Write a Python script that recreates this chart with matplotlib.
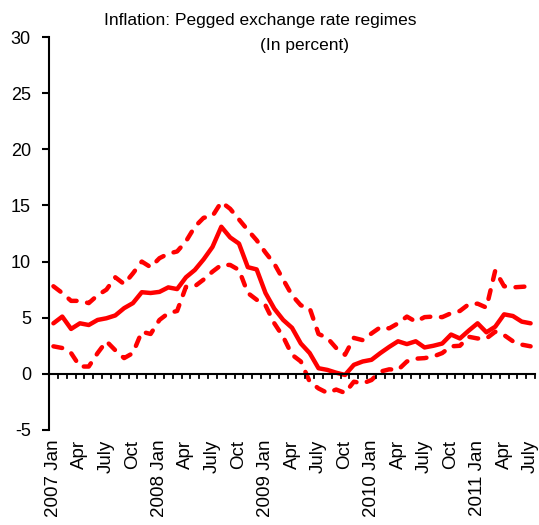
import numpy as np
import matplotlib.pyplot as plt
from matplotlib import transforms

# monthly inflation, Jan 2007 - July 2011
median = [4.5, 5.1, 4.0, 4.5, 4.35, 4.8, 4.95, 5.2, 5.85, 6.3,
          7.27, 7.2, 7.3, 7.7, 7.55, 8.6, 9.25, 10.2, 11.3, 13.1,
          12.15, 11.6, 9.5, 9.3, 7.2, 5.8, 4.8, 4.1, 2.7, 1.85,
          0.5, 0.35, 0.1, -0.1, 0.8, 1.1, 1.25, 1.85, 2.4, 2.9,
          2.65, 2.9, 2.35, 2.5, 2.7, 3.5, 3.15, 3.85, 4.5, 3.7,
          4.2, 5.3, 5.15, 4.65, 4.5]
upper = [7.8, 7.2, 6.5, 6.5, 6.3, 7.0, 7.5, 8.6, 8.0, 8.95,
         10.0, 9.5, 10.3, 10.7, 10.9, 11.8, 13.1, 13.9, 14.05, 15.3,
         14.7, 13.75, 12.8, 11.9, 10.8, 9.8, 8.4, 7.0, 6.1, 5.85,
         3.55, 3.2, 2.3, 1.7, 3.2, 3.0, 3.6, 4.15, 4.05, 4.5,
         5.1, 4.65, 5.05, 5.1, 5.05, 5.4, 5.6, 6.2, 6.25, 5.9,
         9.2, 7.8, 7.7, 7.75, 7.8]
lower = [2.45, 2.3, 1.85, 0.65, 0.65, 1.85, 2.9, 2.1, 1.4, 1.85,
         3.75, 3.55, 4.8, 5.4, 5.6, 7.75, 7.8, 8.4, 9.1, 9.7,
         9.7, 9.25, 7.2, 6.6, 6.1, 4.5, 3.3, 1.7, 1.1, -0.7,
         -1.3, -1.7, -1.4, -1.7, -0.7, -0.85, -0.55, 0.2, 0.4, 0.35,
         1.1, 1.35, 1.4, 1.55, 1.85, 2.45, 2.5, 3.3, 3.15, 3.15,
         3.75, 3.45, 2.9, 2.6, 2.45]
month_labels = ['2007 Jan', 'Apr', 'July', 'Oct',
                '2008 Jan', 'Apr', 'July', 'Oct',
                '2009 Jan', 'Apr', 'July', 'Oct',
                '2010 Jan', 'Apr', 'July', 'Oct',
                '2011 Jan', 'Apr', 'July']
yticks = [-5, 0, 5, 10, 15, 20, 25, 30]

plt.rcParams['font.family'] = ['Liberation Sans', 'DejaVu Sans']

fig = plt.figure(figsize=(5.39, 5.25), dpi=100)
ax = fig.add_axes([0.0909, 0.181, 0.9017, 0.7485])

x = np.arange(len(median))
ax.plot(x, upper, color='red', lw=3.2, ls=(0, (2, 2.4)), dash_capstyle='round')
ax.plot(x, lower, color='red', lw=3.2, ls=(0, (2, 2.4)), dash_capstyle='round')
ax.plot(x, median, color='red', lw=3.2, solid_capstyle='round',
        solid_joinstyle='round')

ax.set_xlim(-0.5, len(median) - 0.5)
ax.set_ylim(-5, 30)

# axes styling
for s in ['top', 'right']:
    ax.spines[s].set_visible(False)
ax.spines['left'].set_linewidth(1.5)
ax.spines['bottom'].set_linewidth(1.5)
ax.spines['bottom'].set_position(('data', 0))

ax.set_yticks(yticks)
ax.set_yticklabels([str(v) for v in yticks])
ax.tick_params(axis='y', direction='out', length=5, width=1.5, pad=8,
               labelsize=13)

ax.set_xticks([])
# small ticks hanging under the zero line, one per month boundary
for b in np.arange(0.5, len(median), 1.0):
    ax.plot([b, b], [0, -0.4], color='black', lw=1.3, clip_on=False)

trans = transforms.blended_transform_factory(ax.transData, ax.transAxes)
for i, lab in enumerate(month_labels):
    ax.text(i * 3, -0.025, lab, transform=trans, rotation=90,
            ha='center', va='top', fontsize=13.5)

fig.text(0.483, 0.961, 'Inflation: Pegged exchange rate regimes',
         ha='center', va='center', fontsize=12.5)
fig.text(0.565, 0.914, '(In percent)', ha='center', va='center',
         fontsize=12.5)

fig.savefig('out.png', dpi=100)
